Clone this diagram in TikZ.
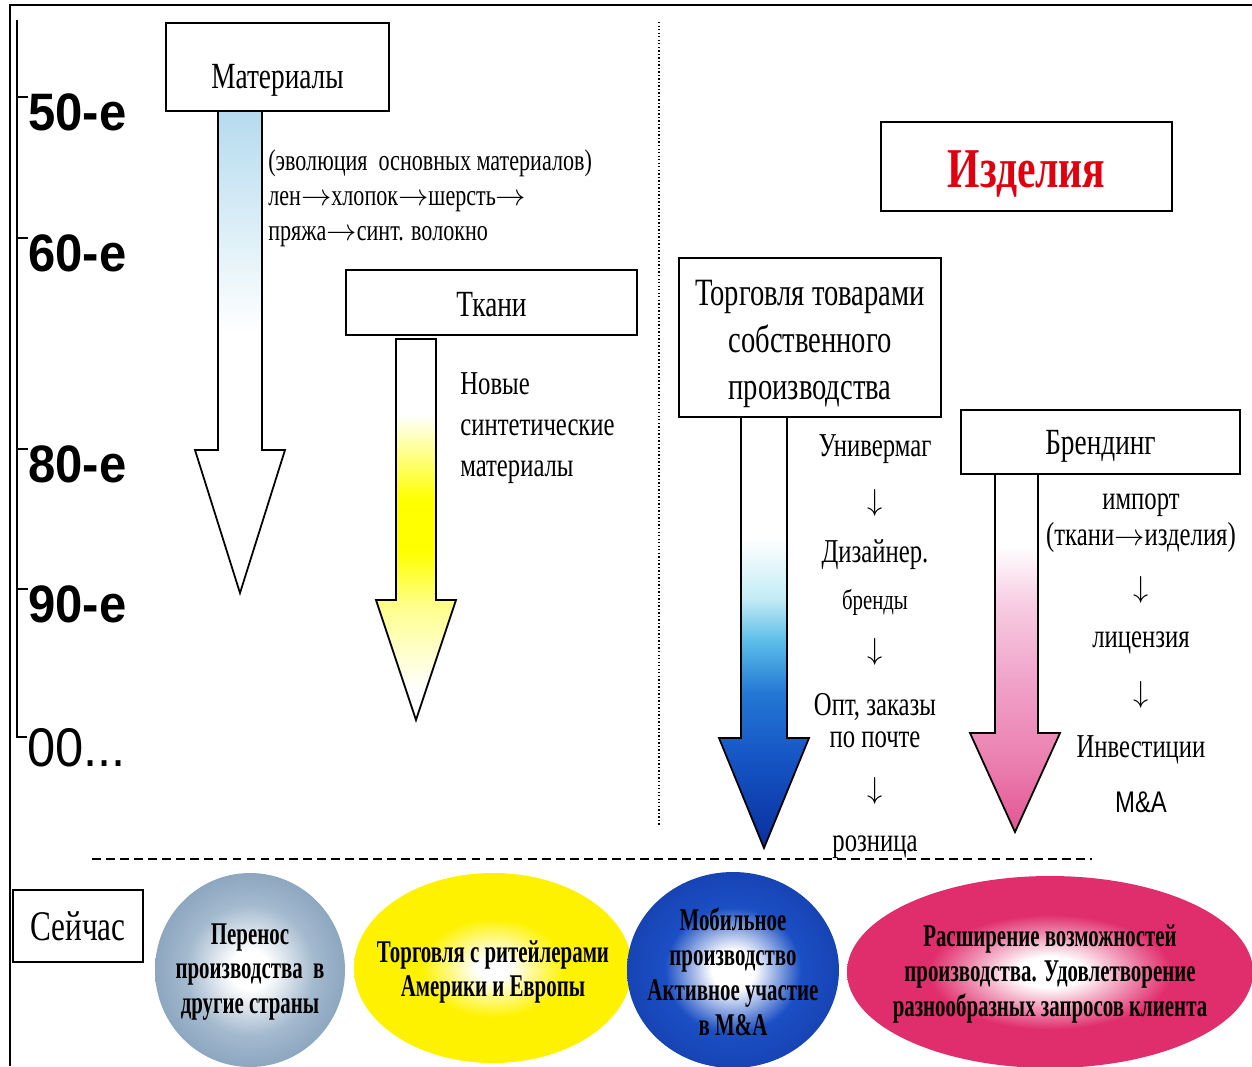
\documentclass[tikz,border=0pt]{standalone}
\usepackage{fontspec}
\setmainfont{Liberation Serif}[FakeStretch=0.74]
\newfontfamily\boldnarrow{Liberation Serif}[FakeStretch=0.66]
\newfontfamily\decadefont{Liberation Sans}[FakeStretch=0.93]
\newfontfamily\narrowsans{Liberation Sans}[FakeStretch=0.8]
\newcommand\rarr{\ensuremath{\rightarrow}}
\newcommand\darr{\ensuremath{\downarrow}}
\usetikzlibrary{shapes,arrows,positioning,calc,arrows.meta}

\definecolor{matblue}{HTML}{B5DBEE}
\definecolor{tkyellow}{HTML}{FFFF00}
\definecolor{tkpale}{HTML}{FFFF8C}
\definecolor{trlight}{HTML}{C4ECF6}
\definecolor{trcyan}{HTML}{5CBDE8}
\definecolor{trmid}{HTML}{2478D4}
\definecolor{trblue}{HTML}{1657C6}
\definecolor{trdark}{HTML}{0A2E9E}
\definecolor{brlight}{HTML}{F7CDE2}
\definecolor{brpink}{HTML}{F0A2C9}
\definecolor{brmid}{HTML}{EB80B1}
\definecolor{brdeep}{HTML}{E25592}
\definecolor{nowgrey}{HTML}{A3B9CE}
\definecolor{nowgreyd}{HTML}{8DA7C0}
\definecolor{nowyellow}{HTML}{FFF200}
\definecolor{nowblue}{HTML}{1B4FC4}
\definecolor{nowblued}{HTML}{1744B4}
\definecolor{nowpink}{HTML}{E02D6C}
\definecolor{isdred}{HTML}{E0000F}

% fills of the big arrows (path box = 25bp..75bp)
\pgfdeclareverticalshading{matshade}{100bp}{color(0bp)=(white); color(52bp)=(white); color(75bp)=(matblue); color(100bp)=(matblue)}
\pgfdeclareverticalshading{tkshade}{100bp}{color(0bp)=(white); color(29bp)=(white); color(40bp)=(tkpale); color(47bp)=(tkyellow); color(54bp)=(tkyellow); color(65bp)=(white); color(100bp)=(white)}
\pgfdeclareverticalshading{trshade}{100bp}{color(0bp)=(trdark); color(25bp)=(trdark); color(36bp)=(trblue); color(43bp)=(trmid); color(49bp)=(trcyan); color(54bp)=(trlight); color(61bp)=(white); color(100bp)=(white)}
\pgfdeclareverticalshading{brshade}{100bp}{color(0bp)=(brdeep); color(25bp)=(brdeep); color(35bp)=(brmid); color(46bp)=(brpink); color(57bp)=(brlight); color(65bp)=(white); color(100bp)=(white)}
% fills of the ellipses
\pgfdeclareradialshading{greyball}{\pgfpoint{0bp}{0bp}}{color(0bp)=(white); color(5bp)=(white); color(17bp)=(nowgrey); color(25bp)=(nowgreyd); color(50bp)=(nowgreyd)}
\pgfdeclareradialshading{yellowball}{\pgfpoint{0bp}{0bp}}{color(0bp)=(white); color(3bp)=(white); color(13bp)=(nowyellow); color(25bp)=(nowyellow); color(50bp)=(nowyellow)}
\pgfdeclareradialshading{blueball}{\pgfpoint{0bp}{0bp}}{color(0bp)=(white); color(5bp)=(white); color(16bp)=(nowblue); color(25bp)=(nowblued); color(50bp)=(nowblued)}
\pgfdeclareradialshading{pinkball}{\pgfpoint{0bp}{0bp}}{color(0bp)=(white); color(4bp)=(white); color(15bp)=(nowpink); color(25bp)=(nowpink); color(50bp)=(nowpink)}

\begin{document}
\begin{tikzpicture}[x=0.02cm, y=-0.02cm,
    box/.style={draw, line width=1.2pt, inner sep=0pt, font=\fontsize{21}{24}\selectfont},
    decade/.style={anchor=west, inner sep=0pt, font=\decadefont\bfseries\fontsize{30}{32}\selectfont},
    sidetext/.style={inner sep=0pt, font=\fontsize{19}{22}\selectfont},
    bigarrow/.style={draw, line width=1pt},
    balltext/.style={inner sep=0pt, align=center, font=\boldnarrow\bfseries\fontsize{18}{19.8}\selectfont}]
    \clip (0,0) rectangle (1252,1066);

    % frame and time axis
    \draw[line width=1.1pt] (10,1066) -- (10,5) -- (1252,5);
    \coordinate (axtop) at (17,20);
    \coordinate (axend) at (17,737);
    \foreach \lab/\yc in {50-е/112, 60-е/253, 80-е/464, 90-е/604} {
        \node[decade] (d\yc) at (28,\yc) {\lab};
        \draw[line width=1pt] (17,\yc-15) -- (d\yc.west |- 0,\yc-15);
    }
    \node[decade, font=\decadefont\fontsize{31}{34}\selectfont] (d00) at (27,748) {00...};
    \draw[line width=1pt] (axtop) -- (axend) -- (d00.west |- axend);

    % left half
    \node[box, text height=28.5pt] (mat) at (277.5,67) [minimum width=4.46cm, minimum height=1.76cm] {Материалы};
    \node[box, text height=16pt] (tk) at (491.5,302.5) [minimum width=5.82cm, minimum height=1.3cm] {Ткани};
    \draw[bigarrow, shading=matshade] (218,111) -- (218,450) -- (195,450) -- (240,593) -- (285,450) -- (262,450) -- (262,111) -- cycle;
    \draw[bigarrow, shading=tkshade] (396,339) -- (396,600) -- (376,600) -- (416,720) -- (456,600) -- (436,600) -- (436,339) -- cycle;
    \node[anchor=north west, align=left, inner sep=0pt, font=\fontsize{17}{20}\selectfont] (evol) at (268,149)
        {(эволюция~~основных материалов)\\лен\rarr хлопок\rarr шерсть\rarr\\пряжа\rarr синт. волокно};
    \node[anchor=north west, align=left, inner sep=0pt, font=\fontsize{19}{23.4}\selectfont] (synth) at (460,372)
        {Новые\\синтетические\\материалы};

    \draw[line width=0.8pt, dash pattern=on 0.8pt off 1.2pt] (659,22) -- (659,825);

    % right half
    \node[box, font=\fontsize{32}{36}\selectfont\bfseries, text=isdred, text height=29.5pt] (prod) at (1026.5,166.5) [minimum width=5.82cm, minimum height=1.78cm] {Изделия};
    \node[box, align=center, font=\fontsize{22}{26.6}\selectfont] (own) at (810,337.5) [minimum width=5.24cm, minimum height=3.18cm]
        {\rule{0pt}{22pt}Торговля товарами\\собственного\\производства};
    \node[box, text height=18.5pt] (brand) at (1100.5,442) [minimum width=5.58cm, minimum height=1.28cm] {Брендинг};
    \draw[bigarrow, shading=trshade] (741,417) -- (741,738) -- (719,738) -- (764,848) -- (809,738) -- (787,738) -- (787,417) -- cycle;
    \draw[bigarrow, shading=brshade] (995,474) -- (995,733) -- (970,733) -- (1015,832) -- (1060,733) -- (1038,733) -- (1038,474) -- cycle;

    \node[sidetext] (own1) at (875,449) {Универмаг};
    \node[sidetext] (own2) at (875,503) {\darr};
    \node[sidetext] (own3) at (875,555) {Дизайнер.};
    \node[sidetext, font=\fontsize{16}{18}\selectfont] (own4) at (875,602) {бренды};
    \node[sidetext] (own5) at (875,652) {\darr};
    \node[sidetext] (own6) at (875,707) {Опт, заказы};
    \node[sidetext] (own7) at (875,740) {по почте};
    \node[sidetext] (own8) at (875,791) {\darr};
    \node[sidetext] (own9) at (875,847) {розница};

    \node[sidetext] (br1) at (1141,505) {импорт};
    \node[sidetext] (br2) at (1141,537) {(ткани\rarr изделия)};
    \node[sidetext] (br3) at (1141,590) {\darr};
    \node[sidetext] (br4) at (1141,643) {лицензия};
    \node[sidetext] (br5) at (1141,695) {\darr};
    \node[sidetext] (br6) at (1141,750) {Инвестиции};
    \node[sidetext, font=\narrowsans\fontsize{17}{20}\selectfont] (br7) at (1141,802) {M\&A};

    % today
    \coordinate (dashL) at (92,859);
    \coordinate (dashR) at (1092,859);
    \draw[line width=1pt, dash pattern=on 5pt off 3pt] (dashL) -- (dashR);
    \node[box, font=\fontsize{24}{28}\selectfont] (now) at (78,926) [minimum width=2.6cm, minimum height=1.44cm] {Сейчас};
    \shade[shading=greyball] (250,970) ellipse [x radius=95, y radius=97];
    \shade[shading=yellowball] (493,968) ellipse [x radius=139, y radius=95];
    \shade[shading=blueball] (733,970) ellipse [x radius=106, y radius=98];
    \shade[shading=pinkball] (1050,972) ellipse [x radius=203, y radius=96];
    \node[balltext] (now1) at (250,972) {Перенос\\производства~~в\\другие страны};
    \node[balltext] (now2) at (493,972) {Торговля с ритейлерами\\Америки и Европы};
    \node[balltext] (now3) at (733,972) {Мобильное\\производство\\Активное участие\\в M\&A};
    \node[balltext] (now4) at (1050,974) {Расширение возможностей\\производства. Удовлетворение\\разнообразных запросов клиента};
\end{tikzpicture}
\end{document}
